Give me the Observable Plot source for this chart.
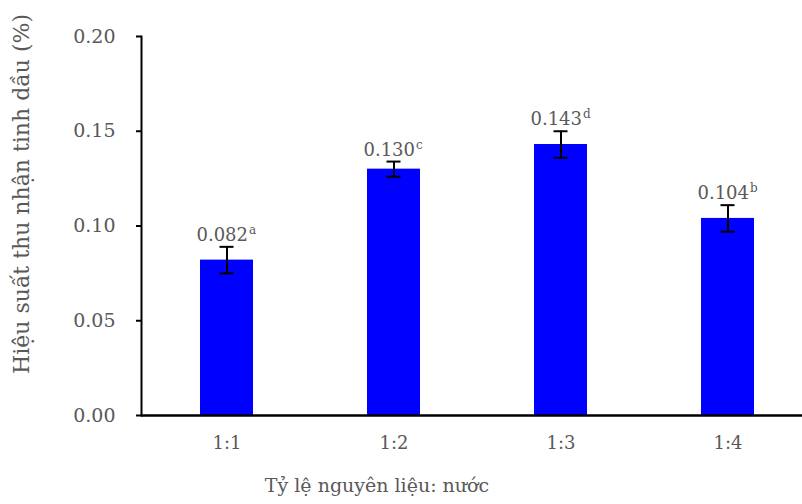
<!DOCTYPE html>
<html>
<head>
<meta charset="utf-8">
<script src="https://cdn.jsdelivr.net/npm/d3@7"></script>
<script src="https://cdn.jsdelivr.net/npm/@observablehq/plot@0.6"></script>
<style>
  html, body { margin: 0; padding: 0; background: #fff; }
  #chart svg { display: block; }
</style>
</head>
<body>
<div id="chart"></div>
<script>
const ratios = ["1:1", "1:2", "1:3", "1:4"];
const yields = [0.082, 0.130, 0.143, 0.104];
const errors = [0.007, 0.004, 0.007, 0.007];
const letters = ["a", "c", "d", "b"];
const yTicks = [0, 0.05, 0.10, 0.15, 0.20];

const data = ratios.map((r, i) => ({
  ratio: r, value: yields[i], err: errors[i],
  num: yields[i].toFixed(3), sup: letters[i]
}));

const font = "'DejaVu Serif', serif";
const gray = "#595959";

const chart = Plot.plot({
  width: 802,
  height: 504,
  marginLeft: 141,
  marginRight: 0,
  marginTop: 36,
  marginBottom: 89,
  style: { fontFamily: font, fontSize: "18px", color: gray, background: "#fff" },
  x: { domain: ratios, paddingInner: 0.685, paddingOuter: 0.31, align: 0.552 },
  y: { domain: [0, 0.2] },
  marks: [
    Plot.barY(data, { x: "ratio", y: "value", fill: "#0000FF" }),
    Plot.ruleX(data, { x: "ratio", y1: d => d.value - d.err, y2: d => d.value + d.err, stroke: "#000", strokeWidth: 2 }),
    Plot.tickY(data, { x: "ratio", y: d => d.value - d.err, stroke: "#000", strokeWidth: 2, insetLeft: 19.5, insetRight: 19.5 }),
    Plot.tickY(data, { x: "ratio", y: d => d.value + d.err, stroke: "#000", strokeWidth: 2, insetLeft: 19.5, insetRight: 19.5 }),
    Plot.text(data, { x: "ratio", y: d => d.value + d.err, text: "num", textAnchor: "end", dx: 21, dy: -6, lineAnchor: "bottom", fill: gray, fontSize: 18 }),
    Plot.text(data, { x: "ratio", y: d => d.value + d.err, text: "sup", textAnchor: "start", dx: 22, dy: -13, lineAnchor: "bottom", fill: gray, fontSize: 12 }),
    Plot.axisY({ ticks: yTicks, tickFormat: d3.format(".2f"), tickSize: 5, tickPadding: 21, stroke: "#000", strokeWidth: 2, fill: gray, fontSize: 19, label: null }),
    Plot.axisX({ tickSize: 0, tickPadding: 21, fill: gray, fontSize: 18, label: null }),
    Plot.frame({ anchor: "left", stroke: "#000", strokeWidth: 2 }),
    Plot.ruleY([0], { stroke: "#000", strokeWidth: 2.5 }),
    Plot.text(["Tỷ lệ nguyên liệu: nước"], { frameAnchor: "bottom", textAnchor: "middle", lineAnchor: "top", dx: -95, dy: 63, fill: gray, fontSize: 19 }),
    Plot.text(["Hiệu suất thu nhận tinh dầu (%)"], { frameAnchor: "left", textAnchor: "middle", lineAnchor: "middle", dx: -120, dy: -32, rotate: -90, fill: gray, fontSize: 22 })
  ]
});
document.getElementById("chart").appendChild(chart);
</script>
</body>
</html>
